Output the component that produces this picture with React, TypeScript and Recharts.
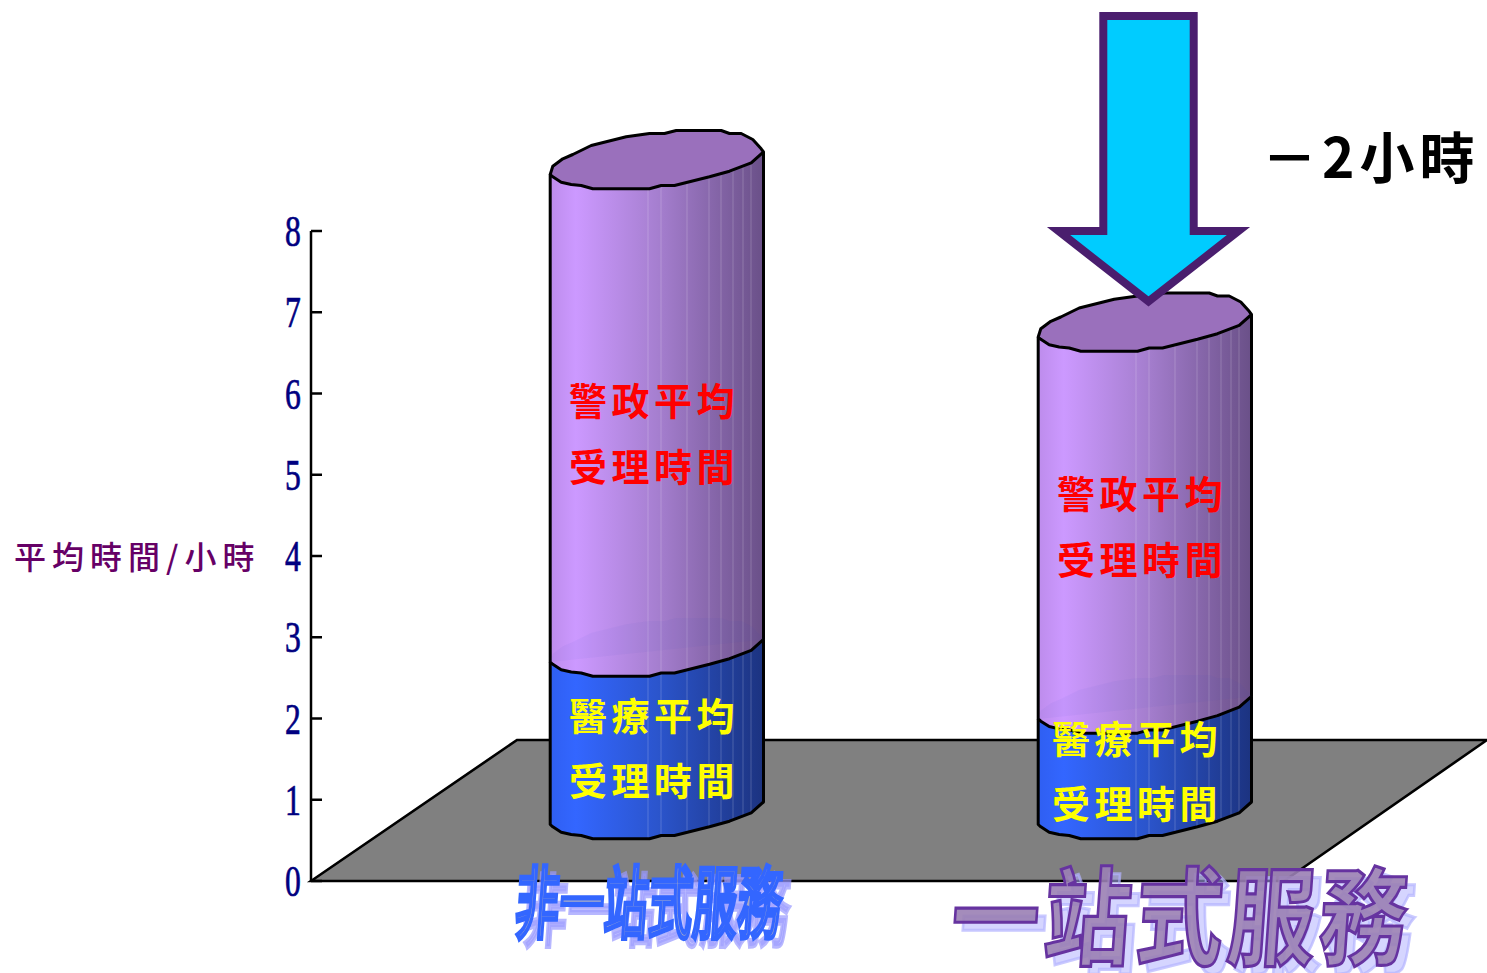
import React from 'react';
import { BarChart, Bar, XAxis, YAxis, Customized } from 'recharts';

const CATEGORIES = ['非一站式服務', '一站式服務'];
const MEDICAL_HOURS = [2, 1.3];
const POLICE_HOURS = [6, 4.7];
const Y_TICKS = [0, 1, 2, 3, 4, 5, 6, 7, 8];
const Y_TITLE = '平均時間/小時';
const POLICE_LINES = ['警政平均', '受理時間'];
const MEDICAL_LINES = ['醫療平均', '受理時間'];
const DELTA_LABEL = '－2小時';

const chartData = CATEGORIES.map((name, i) => ({
  name,
  medical: MEDICAL_HOURS[i],
  police: POLICE_HOURS[i],
}));

const CJK = '"Noto Sans CJK TC", "Noto Sans CJK SC", sans-serif';

// the cylinders stand on the floor, so they sit above the axis baseline
const LIFT = 70;

// hand-wobbled ellipse, same as the picture (relative to cylinder centre)
const RIM_UPPER: [number, number][] = [
  [-106.8, 13.5], [-104.2, 5.2], [-94.2, -2.2], [-84.2, -6.5], [-65.8, -15.5], [-30.8, -24.2],
  [-7.5, -27.5], [7.5, -27.5], [19.2, -30.5], [64.2, -30.5], [72.5, -27.5], [84.2, -27.5],
  [95.8, -21.5], [104.2, -12.2], [106.5, -9],
];
const RIM_LOWER: [number, number][] = [
  [106.5, -9], [94.2, 1.8], [72.5, 10.2], [52.5, 15.8], [17.5, 24.5], [4.2, 24.5], [-7.5, 27.8],
  [-64.2, 27.8], [-75.8, 24.5], [-85.8, 23.5], [-95.8, 21.2], [-104.2, 15.8], [-106.8, 13.5],
];
const FACET_LINES = [-9, 4, 30, 52, 64, 76, 86, 94];

const toPts = (pts: [number, number][], cx: number, cy: number) =>
  pts.map(([dx, dy]) => `${cx + dx},${cy + dy}`).join(' L');

const BodyStops = ({ id, colors }: { id: string; colors: string[] }) => (
  <linearGradient id={id} x1="0" y1="0" x2="1" y2="0">
    <stop offset="0" stopColor={colors[0]} />
    <stop offset="0.12" stopColor={colors[1]} />
    <stop offset="0.5" stopColor={colors[2]} />
    <stop offset="1" stopColor={colors[3]} />
  </linearGradient>
);

const Body = ({ cx, top, bottom, id, colors, facet }: any) => {
  const d = `M${cx - 106.8},${top + 13.5} L${cx + 106.5},${top - 9} L${toPts(RIM_LOWER, cx, bottom)} Z`;
  const edge = `M${cx - 106.8},${top + 13.5} L${toPts(RIM_LOWER.slice().reverse(), cx, bottom)} L${cx + 106.5},${top - 9}`;
  return (
    <g>
      <defs>
        <BodyStops id={id} colors={colors} />
        <clipPath id={`${id}-clip`}><path d={d} /></clipPath>
      </defs>
      <path d={d} fill={`url(#${id})`} />
      <g clipPath={`url(#${id}-clip)`}>
        {FACET_LINES.map((dx) => (
          <line key={dx} x1={cx + dx} x2={cx + dx} y1={top - 40} y2={bottom + 40} stroke={facet} strokeOpacity={0.2} strokeWidth={1} />
        ))}
      </g>
      <path d={edge} fill="none" stroke="#000" strokeWidth={3} strokeLinejoin="round" />
    </g>
  );
};

const TextLines = ({ lines, x, ys, fill }: any) => (
  <g>
    {lines.map((t: string, i: number) => (
      <text key={i} x={x} y={ys[i]} textAnchor="middle" dominantBaseline="central" fontFamily={CJK} fontWeight={700} fontSize={38} letterSpacing={4.5} fill={fill}>
        {t}
      </text>
    ))}
  </g>
);

const MedicalShape = (props: any) => {
  const { x, y, width, height, index } = props;
  const cx = x + width / 2;
  return (
    <Body cx={cx} top={y - LIFT} bottom={y + height - LIFT} id={`medical-${index}`} colors={['#2f5ff2', '#3366ff', '#2b55cd', '#1c3380']} facet="#ffffff" />
  );
};

const POLICE_TEXT = [{ dx: -3, ys: [-250.5, -184.5] }, { dx: -3, ys: [-214, -148] }];
const MEDICAL_TEXT = [{ dx: -3, ys: [64.5, 129.5] }, { dx: -8, ys: [31, 96] }];

// drawn last in the stack: also carries both captions so nothing covers them
const PoliceShape = (props: any) => {
  const { x, y, width, height, index } = props;
  const cx = x + width / 2;
  const top = y - LIFT;
  const bottom = y + height - LIFT;
  const pt = POLICE_TEXT[index];
  const mt = MEDICAL_TEXT[index];
  return (
    <g>
      <Body cx={cx} top={top} bottom={bottom} id={`police-${index}`} colors={['#bd8cec', '#cc99ff', '#a67fd0', '#6a5088']} facet="#ffffff" />
      <path d={`M${toPts(RIM_UPPER, cx, bottom)} Z`} fill="#3355cc" fillOpacity={0.05} />
      <path
        d={`M${toPts(RIM_UPPER, cx, top)} L${toPts(RIM_LOWER, cx, top)} Z`}
        fill="#9a70bc"
        stroke="#000"
        strokeWidth={3}
        strokeLinejoin="round"
      />
      <TextLines lines={POLICE_LINES} x={cx + pt.dx} ys={pt.ys.map((d) => bottom + d)} fill="#ff0000" />
      <TextLines lines={MEDICAL_LINES} x={cx + mt.dx} ys={mt.ys.map((d) => bottom + d)} fill="#ffff00" />
    </g>
  );
};

const YTick = ({ y, payload }: any) => (
  <g>
    <line x1={311} x2={322} y1={y} y2={y} stroke="#000" strokeWidth={2.5} />
    <text
      transform={`translate(293 ${y + 15}) scale(0.72 1)`}
      textAnchor="middle"
      fontFamily='"Liberation Serif", serif'
      fontWeight={400}
      fontSize={44}
      stroke="#000080"
      strokeWidth={0.7}
      fill="#000080"
    >
      {payload.value}
    </text>
  </g>
);

const CAT_STYLE = [
  { dx: -10, base: 932, size: 44, sy: 1.8, weight: 400, stroke: '#3366ff', fill: '#a9a9bd', shadow: '#9999ff', sw: 3, off: 8, ls: 0.5 },
  { dx: 34, base: 957, size: 88, sy: 1.22, weight: 700, stroke: '#6633a0', fill: '#9a80b4', shadow: '#b3b3ff', sw: 2.6, off: 8, ls: 4 },
];

const CategoryTick = ({ x, payload, index }: any) => {
  const s = CAT_STYLE[index];
  const t = `translate(${x + s.dx} ${s.base}) skewX(-4) scale(1 ${s.sy})`;
  const t2 = `translate(${x + s.dx + s.off} ${s.base + s.off}) skewX(-4) scale(1 ${s.sy})`;
  const common = { textAnchor: 'middle' as const, fontFamily: CJK, fontWeight: s.weight, fontSize: s.size, letterSpacing: s.ls };
  return (
    <g>
      <text transform={t2} {...common} fill={s.shadow} fillOpacity={0.55} stroke={s.shadow} strokeOpacity={0.7} strokeWidth={s.sw}>{payload.value}</text>
      <text transform={t} {...common} fill={s.fill} fillOpacity={0.9} stroke={s.stroke} strokeWidth={s.sw}>{payload.value}</text>
    </g>
  );
};

const Floor = () => (
  <polygon points="311,881 517,740 1487,740 1284,881" fill="#808080" stroke="#000" strokeWidth={2.6} />
);

export default function App() {
  return (
    <div style={{ position: 'absolute', left: 0, top: 0, width: 1487, height: 973 }}>
      <BarChart width={1487} height={973} data={chartData} margin={{ top: 231, right: 0, bottom: 0, left: 0 }} barSize={214}>
        <Customized component={Floor} />
        <XAxis
          dataKey="name"
          height={92}
          padding={{ left: 102, right: 98 }}
          axisLine={false}
          tickLine={false}
          tick={<CategoryTick />}
          interval={0}
        />
        <YAxis
          width={311}
          domain={[0, 8]}
          ticks={Y_TICKS}
          interval={0}
          tickLine={false}
          axisLine={{ stroke: '#000', strokeWidth: 2.5 }}
          tick={<YTick />}
        />
        <Bar dataKey="medical" stackId="hours" shape={<MedicalShape />} isAnimationActive={false} />
        <Bar dataKey="police" stackId="hours" shape={<PoliceShape />} isAnimationActive={false} />
      </BarChart>
      {/* arrow and side texts sit on top of the bars */}
      <svg width={1487} height={973} style={{ position: 'absolute', left: 0, top: 0, pointerEvents: 'none' }}>
        <polygon
          points="1103.3,16 1193.7,16 1193.7,231 1238.5,231 1148.5,301.5 1058.5,231 1103.3,231"
          fill="#00ccff"
          stroke="#4a1e6e"
          strokeWidth={8}
          strokeMiterlimit={10}
        />
        <text x={1262} y={178} fontFamily={CJK} fontWeight={700} fontSize={55} letterSpacing={5} fill="#000">
          {DELTA_LABEL}
        </text>
        <text x={14} y={569} fontFamily={CJK} fontWeight={500} fontSize={32} letterSpacing={6} fill="#660066">
          {Y_TITLE}
        </text>
      </svg>
    </div>
  );
}
